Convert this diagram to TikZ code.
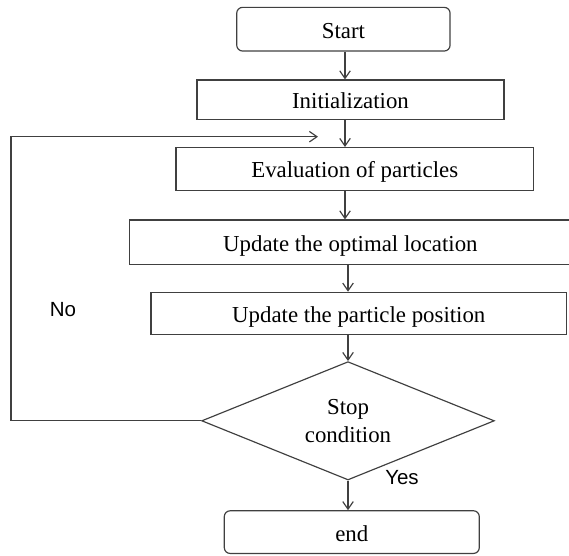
\documentclass[tikz,border=0pt]{standalone}
\usepackage{fontspec}
\setmainfont{Liberation Serif}
\newfontfamily\answerfont{Liberation Sans}
\usetikzlibrary{arrows.meta,shapes.geometric}
\tikzset{
  box/.style={draw=black!75, line width=1pt, inner sep=0pt, font=\fontsize{19.5}{23}\selectfont},
  step box/.style={box, text height=15.5pt, text depth=0pt},
  term/.style={step box, rounded corners=5pt},
  cond/.style={box, diamond, aspect=2.47, align=center, font=\fontsize{19.5}{24}\selectfont},
  flow/.style={draw=black!75, line width=1pt, -{Straight Barb[length=6.5pt,width=9pt]}},
  answer/.style={font=\answerfont\fontsize{17.5}{20}\selectfont}
}
\begin{document}
\begin{tikzpicture}[x=0.03cm,y=-0.03cm]
	\useasboundingbox (0,0) rectangle (569,555);
	\node[term, minimum width=6.40cm, minimum height=1.31cm] (start) at (343.4,29.2) {Start};
	\node[step box, minimum width=9.21cm, minimum height=1.18cm] (init) at (350.5,99.7) {Initialization};
	\node[step box, minimum width=10.72cm, minimum height=1.28cm] (eval) at (354.7,168.9) {Evaluation of particles};
	\node[step box, minimum width=13.24cm, minimum height=1.33cm] (best) at (350.4,242.2) {Update the optimal location};
	\node[step box, minimum width=12.47cm, minimum height=1.26cm] (move) at (358.8,313.3) {Update the particle position};
	\node[cond, minimum width=8.78cm, minimum height=3.55cm] (stop) at (348,420.8) {Stop\\condition};
	\node[term, minimum width=7.65cm, minimum height=1.28cm] (end) at (351.8,532.1) {end};
	\node[answer] (no) at (63,310) {No};
	\node[answer] (yes) at (402,478) {Yes};
	\coordinate (spine) at (345,0);
	\coordinate (back) at (11,136.7);
	\coordinate (entry) at (318,136.7);
	\draw[flow] (start.south -| spine) -- (init.north -| spine);
	\draw[flow] (init.south -| spine) -- (eval.north -| spine);
	\draw[flow] (eval.south -| spine) -- (best.north -| spine);
	\draw[flow] (best.south -| stop) -- (move.north -| stop);
	\draw[flow] (move.south -| stop) -- (stop.north);
	\draw[flow] (stop.south) -- (end.north -| stop);
	\draw[flow] (stop.west) -| (back) -- (entry);
\end{tikzpicture}
\end{document}
